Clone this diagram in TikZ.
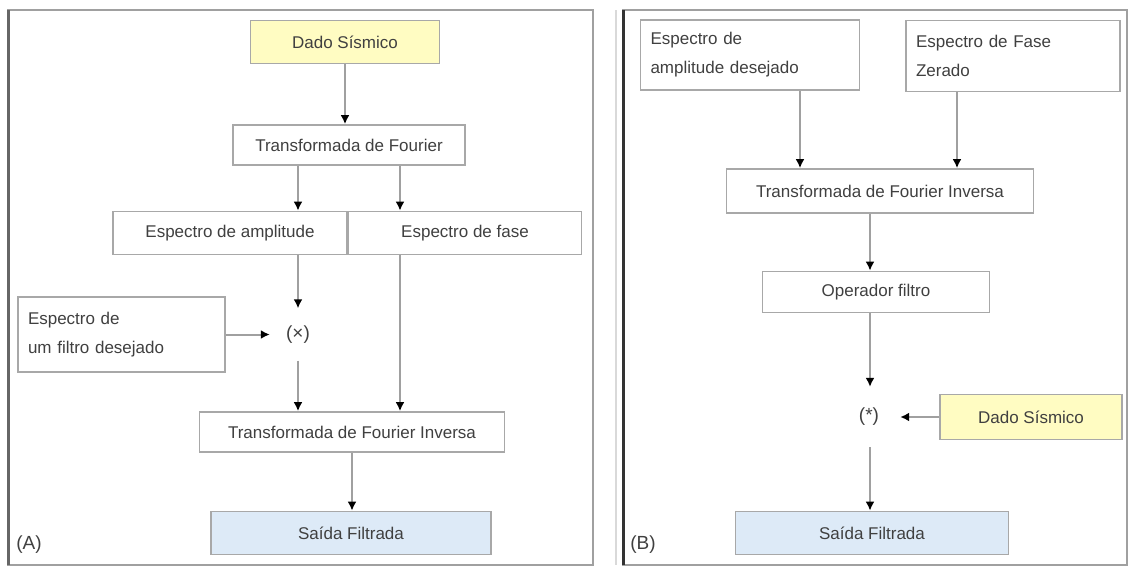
\documentclass[tikz,border=0pt]{standalone}
\usepackage{fontspec}
\setmainfont{Liberation Sans}
\usetikzlibrary{arrows.meta}
\definecolor{boxline}{HTML}{A8A8A8}
\definecolor{linegray}{HTML}{A0A0A0}
\definecolor{txt}{HTML}{404040}
\definecolor{yel}{HTML}{FFFCC2}
\definecolor{blu}{HTML}{DDEAF7}
\begin{document}
\begin{tikzpicture}[x=1pt,y=-1pt,
  box/.style={draw=boxline,line width=1.8pt,fill=white,text=txt,inner sep=0pt,
    font=\fontsize{17}{29}\selectfont},
  twoline/.style={box,align=left},
  sym/.style={text=txt,inner sep=0pt,font=\fontsize{19}{22}\selectfont},
  conn/.style={draw=linegray,line width=2pt,-{Latex[length=9pt,width=9pt,color=black]}},
  frame/.style={draw=linegray,line width=2.5pt}]
\useasboundingbox (0,0) rectangle (1130,568);
% frames
\draw[frame] (8,10) rectangle (593,565);
\draw[draw=gray!80!black,line width=3pt] (8,10) -- (8,565);
\draw[draw=black!15,line width=2pt] (616,10) -- (616,565);
\draw[frame] (623,10) rectangle (1127,565);
\draw[draw=black!80,line width=3pt] (623,10) -- (623,565);
% column coordinates
\coordinate (cA1) at (298,0);
\coordinate (cA2) at (400,0);
\coordinate (cB1) at (800,0);
\coordinate (cB2) at (957,0);
\coordinate (cB3) at (870,0);
% panel A
\node[box,fill=yel,minimum width=189,minimum height=43] (dadoA) at (345,42) {Dado Sísmico};
\node[box,minimum width=232,minimum height=40] (tfA) at (349,145) {Transformada de Fourier};
\node[box,minimum width=234,minimum height=43] (ampA) at (230,233) {Espectro de amplitude};
\node[box,minimum width=233,minimum height=43] (faseA) at (465,233) {Espectro de fase};
\node[twoline,minimum width=207,minimum height=75,text width=187] (filtroA) at (121.5,334.5) {Espectro de\\um filtro desejado};
\node[sym,minimum width=56,minimum height=52] (multA) at (298,334.5) {(×)};
\node[box,minimum width=305,minimum height=40] (tfiA) at (352,432) {Transformada de Fourier Inversa};
\node[box,fill=blu,minimum width=280,minimum height=43] (saidaA) at (351,533) {Saída Filtrada};
\node[sym] (labA) at (29,545) {(A)};
\draw[conn] (dadoA.south) -- (dadoA.south |- tfA.north);
\draw[conn] (tfA.south -| cA1) -- (ampA.north -| cA1);
\draw[conn] (ampA.south -| cA1) -- (multA.north);
\draw[conn] (tfA.south -| cA2) -- (faseA.north -| cA2);
\draw[conn] (faseA.south -| cA2) -- (tfiA.north -| cA2);
\draw[conn] (filtroA.east) -- (multA.west);
\draw[conn] (multA.south) -- (tfiA.north -| multA);
\draw[conn] (tfiA.south) -- (saidaA.north -| tfiA);
% panel B
\node[twoline,minimum width=219,minimum height=70,text width=199] (ampB) at (750,55) {Espectro de\\amplitude desejado};
\node[twoline,minimum width=214,minimum height=71,text width=194] (faseB) at (1013,56) {Espectro de Fase\\Zerado};
\node[box,minimum width=307,minimum height=44] (tfiB) at (880,191) {Transformada de Fourier Inversa};
\node[box,minimum width=227,minimum height=41] (opB) at (876,292) {Operador filtro};
\node[sym,minimum width=62,minimum height=60] (convB) at (869,417) {(*)};
\node[box,fill=yel,minimum width=182,minimum height=45] (dadoB) at (1031,417) {Dado Sísmico};
\node[box,fill=blu,minimum width=273,minimum height=43] (saidaB) at (872,533) {Saída Filtrada};
\node[sym] (labB) at (643,545) {(B)};
\draw[conn] (ampB.south -| cB1) -- (tfiB.north -| cB1);
\draw[conn] (faseB.south -| cB2) -- (tfiB.north -| cB2);
\draw[conn] (tfiB.south -| cB3) -- (opB.north -| cB3);
\draw[conn] (opB.south -| cB3) -- (convB.north -| cB3);
\draw[conn] (dadoB.west) -- (convB.east);
\draw[conn] (convB.south -| cB3) -- (saidaB.north -| cB3);
\end{tikzpicture}
\end{document}
